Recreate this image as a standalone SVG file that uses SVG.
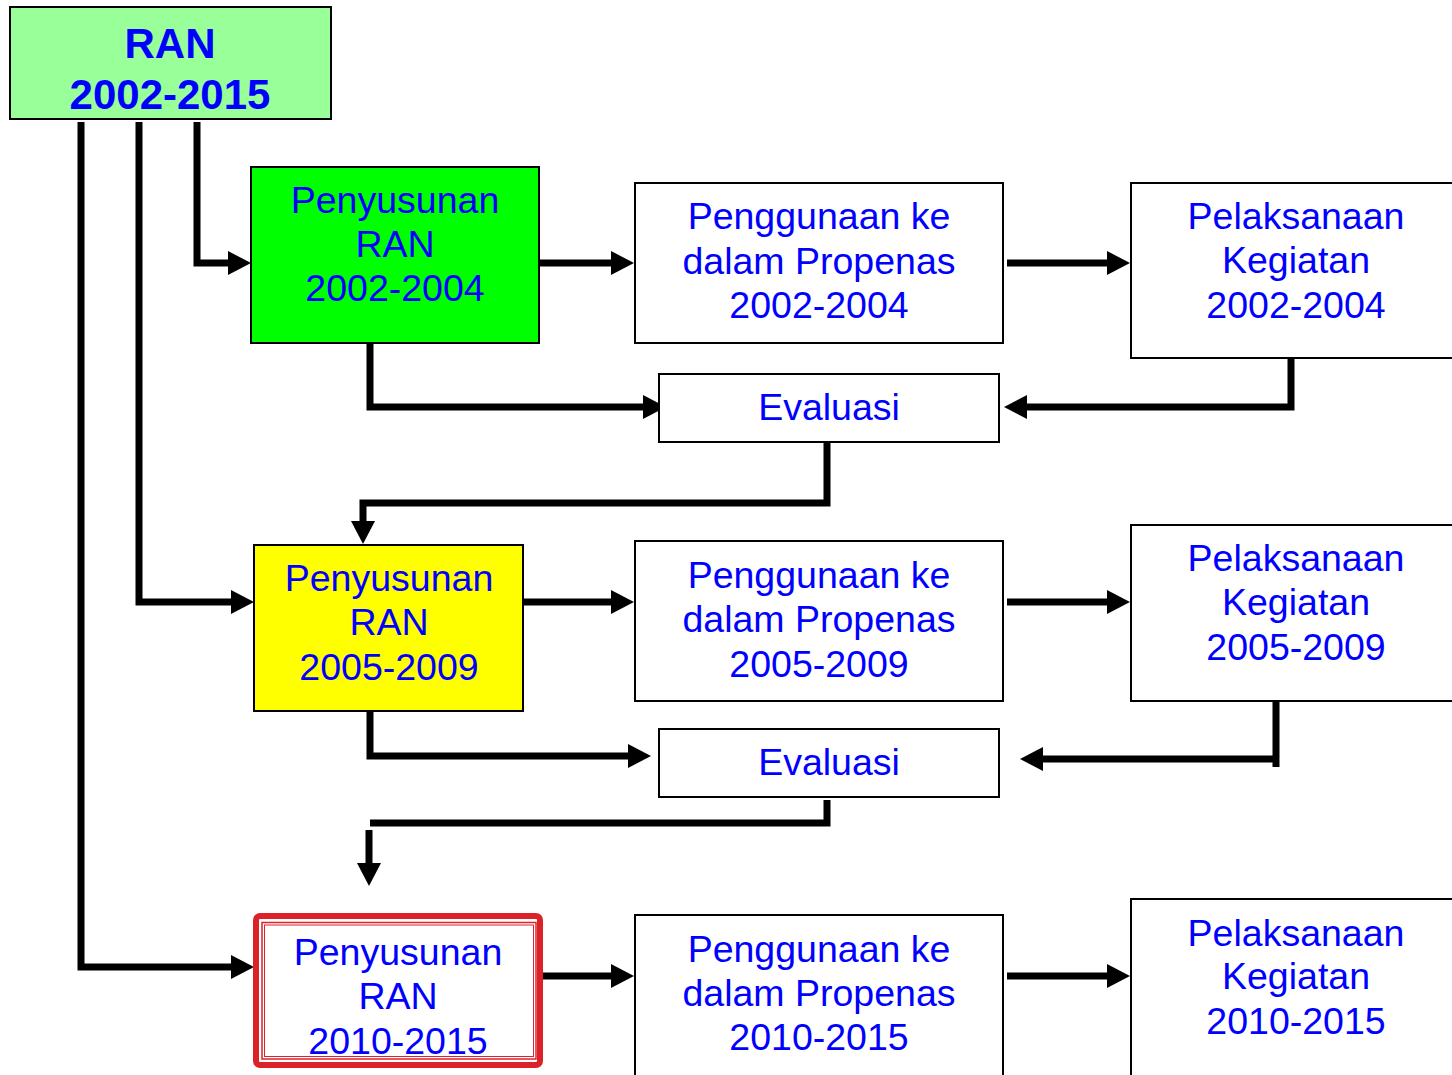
<svg xmlns="http://www.w3.org/2000/svg" width="1452" height="1075" viewBox="0 0 1452 1075">
<style>
.box{stroke:#000;stroke-width:2}
.t{font-family:"Liberation Sans",Arial,sans-serif;font-size:37.5px;fill:#0000FF;text-anchor:middle}
.tb{font-family:"Liberation Sans",Arial,sans-serif;font-size:42px;font-weight:bold;fill:#0000FF;text-anchor:middle}
.c{stroke:#000;stroke-width:7;fill:none;stroke-linejoin:miter}
</style>
<defs>
<marker id="ah" markerUnits="userSpaceOnUse" markerWidth="24" markerHeight="26" refX="0" refY="12" orient="auto" overflow="visible">
<path d="M0,0 L23,12 L0,24 z" fill="#000"/>
</marker>
</defs>
<rect width="1452" height="1075" fill="#fff"/>

<g id="connectors">
<path class="c" d="M197,122 V263 H228" marker-end="url(#ah)"/>
<path class="c" d="M139,122 V602 H231" marker-end="url(#ah)"/>
<path class="c" d="M81,122 V967 H231" marker-end="url(#ah)"/>
<path class="c" d="M539,263 H611" marker-end="url(#ah)"/>
<path class="c" d="M1007,263 H1107" marker-end="url(#ah)"/>
<path class="c" d="M370,343 V407 H643" marker-end="url(#ah)"/>
<path class="c" d="M1291,358 V407 H1027" marker-end="url(#ah)"/>
<path class="c" d="M827,442 V503 H363 V521" marker-end="url(#ah)"/>
<path class="c" d="M523,602 H611" marker-end="url(#ah)"/>
<path class="c" d="M1007,602 H1107" marker-end="url(#ah)"/>
<path class="c" d="M370,711 V756 H628" marker-end="url(#ah)"/>
<path class="c" d="M1276,701 V767 M1276,759 H1043" marker-end="url(#ah)"/>
<path class="c" d="M827,800 V823 H370"/>
<path class="c" d="M369,830 V863" marker-end="url(#ah)"/>
<path class="c" d="M543,976 H611" marker-end="url(#ah)"/>
<path class="c" d="M1007,976 H1107" marker-end="url(#ah)"/>
</g>

<g id="ran-main">
<rect class="box" x="10" y="7" width="321" height="112" fill="#99FF99"/>
<text class="tb" x="170" y="58">RAN</text>
<text class="tb" x="170" y="109">2002-2015</text>
</g>

<g id="penyusunan-1">
<rect class="box" x="251" y="167" width="288" height="176" fill="#00FF00"/>
<text class="t" x="395" y="213">Penyusunan</text>
<text class="t" x="395" y="257">RAN</text>
<text class="t" x="395" y="301">2002-2004</text>
</g>

<g id="penggunaan-1">
<rect class="box" x="635" y="183" width="368" height="160" fill="#fff"/>
<text class="t" x="819" y="229">Penggunaan ke</text>
<text class="t" x="819" y="274">dalam Propenas</text>
<text class="t" x="819" y="318">2002-2004</text>
</g>

<g id="pelaksanaan-1">
<rect class="box" x="1131" y="183" width="330" height="175" fill="#fff"/>
<text class="t" x="1296" y="229">Pelaksanaan</text>
<text class="t" x="1296" y="273">Kegiatan</text>
<text class="t" x="1296" y="318">2002-2004</text>
</g>

<g id="evaluasi-1">
<rect class="box" x="659" y="374" width="340" height="68" fill="#fff"/>
<text class="t" x="829" y="420">Evaluasi</text>
</g>

<g id="penyusunan-2">
<rect class="box" x="254" y="545" width="269" height="166" fill="#FFFF00"/>
<text class="t" x="389" y="591">Penyusunan</text>
<text class="t" x="389" y="635">RAN</text>
<text class="t" x="389" y="680">2005-2009</text>
</g>

<g id="penggunaan-2">
<rect class="box" x="635" y="541" width="368" height="160" fill="#fff"/>
<text class="t" x="819" y="588">Penggunaan ke</text>
<text class="t" x="819" y="632">dalam Propenas</text>
<text class="t" x="819" y="677">2005-2009</text>
</g>

<g id="pelaksanaan-2">
<rect class="box" x="1131" y="525" width="330" height="176" fill="#fff"/>
<text class="t" x="1296" y="571">Pelaksanaan</text>
<text class="t" x="1296" y="615">Kegiatan</text>
<text class="t" x="1296" y="660">2005-2009</text>
</g>

<g id="evaluasi-2">
<rect class="box" x="659" y="729" width="340" height="68" fill="#fff"/>
<text class="t" x="829" y="775">Evaluasi</text>
</g>

<g id="penyusunan-3">
<rect x="256" y="916" width="284" height="149" rx="4" fill="#fff" stroke="#DC2128" stroke-width="6"/>
<rect x="262" y="922.5" width="274" height="136.5" fill="none" stroke="#DC2128" stroke-width="1.5"/>
<rect x="264.5" y="925" width="269" height="131.5" fill="none" stroke="#DC2128" stroke-width="1"/>
<text class="t" x="398" y="965">Penyusunan</text>
<text class="t" x="398" y="1009">RAN</text>
<text class="t" x="398" y="1054">2010-2015</text>
</g>

<g id="penggunaan-3">
<rect class="box" x="635" y="915" width="368" height="170" fill="#fff"/>
<text class="t" x="819" y="962">Penggunaan ke</text>
<text class="t" x="819" y="1006">dalam Propenas</text>
<text class="t" x="819" y="1050">2010-2015</text>
</g>

<g id="pelaksanaan-3">
<rect class="box" x="1131" y="899" width="330" height="186" fill="#fff"/>
<text class="t" x="1296" y="946">Pelaksanaan</text>
<text class="t" x="1296" y="989">Kegiatan</text>
<text class="t" x="1296" y="1034">2010-2015</text>
</g>
</svg>
